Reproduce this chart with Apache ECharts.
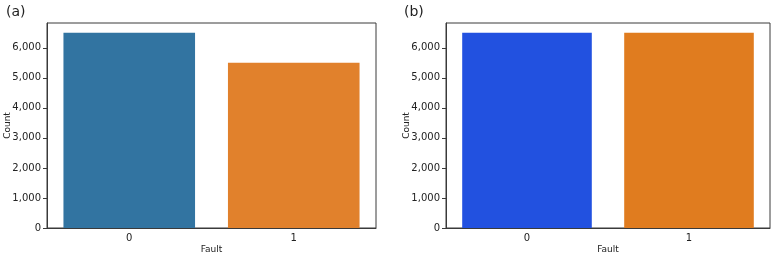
<!DOCTYPE html>
<html>
<head>
<meta charset="utf-8">
<script src="https://cdn.jsdelivr.net/npm/echarts@6/dist/echarts.min.js"></script>
<style>
  html, body { margin: 0; padding: 0; background: #fff; }
  #chart { width: 777px; height: 254px; }
</style>
</head>
<body>
<div id="chart"></div>
<script>
// data
var faultClasses = ["0", "1"];
var countsBefore = [6500, 5500];   // (a)
var countsAfter = [6500, 6500];    // (b)
var countTicks = [0, 1000, 2000, 3000, 4000, 5000, 6000];
var countMax = 6825;
var coloursA = ["#3274a1", "#e1812c"];
var coloursB = ["#2251e0", "#e07c1f"];

var myChart = echarts.init(document.getElementById("chart"), null, { renderer: "canvas" });

var font = "DejaVu Sans";
var spine = "#3a3a3a";

function thousands(v) {
  return String(v).replace(/\B(?=(\d{3})+(?!\d))/g, ",");
}

function xAxisFor(gridIndex) {
  return {
    type: "category",
    gridIndex: gridIndex,
    data: faultClasses,
    name: "Fault",
    nameLocation: "middle",
    nameGap: 17,
    nameMoveOverlap: false,
    nameTextStyle: { fontFamily: font, fontSize: 9, color: "#222" },
    axisLine: { lineStyle: { color: spine, width: 1 } },
    axisTick: { alignWithLabel: true, length: 4, lineStyle: { color: spine } },
    axisLabel: { fontFamily: font, fontSize: 10, color: "#222", margin: 5 },
    splitLine: { show: false }
  };
}

function yAxisFor(gridIndex) {
  return {
    type: "value",
    gridIndex: gridIndex,
    min: 0,
    max: countMax,
    interval: 1000,
    name: "Count",
    nameLocation: "middle",
    nameRotate: 90,
    nameGap: 35,
    nameMoveOverlap: false,
    nameTextStyle: { fontFamily: font, fontSize: 9, color: "#222" },
    axisLine: { show: true, lineStyle: { color: spine, width: 1 } },
    axisTick: { show: true, length: 4, customValues: countTicks, lineStyle: { color: spine } },
    axisLabel: {
      fontFamily: font, fontSize: 10, color: "#222", margin: 6,
      customValues: countTicks,
      formatter: function (v) { return thousands(v); }
    },
    splitLine: { show: false }
  };
}

function barSeries(idx, values, colours) {
  return {
    type: "bar",
    xAxisIndex: idx,
    yAxisIndex: idx,
    barCategoryGap: "20%",
    data: values.map(function (v, i) {
      return { value: v, itemStyle: { color: colours[i] } };
    })
  };
}

var option = {
  backgroundColor: "#fff",
  animation: false,
  title: [
    { text: "(a)", left: 1, top: 0, textStyle: { fontFamily: font, fontSize: 14, fontWeight: "normal", color: "#222" } },
    { text: "(b)", left: 399, top: 0, textStyle: { fontFamily: font, fontSize: 14, fontWeight: "normal", color: "#222" } }
  ],
  grid: [
    { left: 47, right: 401, top: 23, bottom: 26, outerBoundsMode: "none", containLabel: false,
      show: true, borderColor: spine, borderWidth: 1, backgroundColor: "transparent" },
    { left: 446, right: 7, top: 23, bottom: 26, outerBoundsMode: "none", containLabel: false,
      show: true, borderColor: spine, borderWidth: 1, backgroundColor: "transparent" }
  ],
  xAxis: [xAxisFor(0), xAxisFor(1)],
  yAxis: [yAxisFor(0), yAxisFor(1)],
  series: [
    barSeries(0, countsBefore, coloursA),
    barSeries(1, countsAfter, coloursB)
  ]
};

myChart.setOption(option);
</script>
</body>
</html>
